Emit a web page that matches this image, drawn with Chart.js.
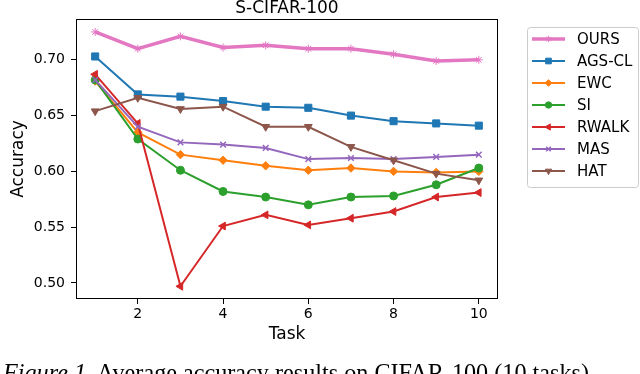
<!DOCTYPE html>
<html><head><meta charset="utf-8">
<script src="https://cdn.jsdelivr.net/npm/chart.js@4/dist/chart.umd.min.js"></script>
<style>
html,body{margin:0;padding:0;background:#fff;overflow:hidden;}
#wrap{position:relative;width:640px;height:374px;overflow:hidden;}
#c{position:absolute;left:0;top:0;}
#cap{position:absolute;left:3px;top:361px;font-family:"Liberation Serif","Times New Roman",serif;font-size:24.2px;color:#000;white-space:nowrap;line-height:1;}
#cap i{font-style:italic;}
</style></head>
<body>
<div id="wrap">
<canvas id="c" width="640" height="374"></canvas>
<div id="cap"><i>Figure 1.</i> Average accuracy results on CIFAR-100 (10 tasks).</div>
</div>
<script>
const chartTitle = "S-CIFAR-100";
const xLabel = "Task";
const yLabel = "Accuracy";
const tasks = [1,2,3,4,5,6,7,8,9,10];
const xTicks = [2,4,6,8,10];
const yTicks = [0.50,0.55,0.60,0.65,0.70];
const seriesNames = ["OURS","AGS-CL","EWC","SI","RWALK","MAS","HAT"];
const ours  = [0.725,0.710,0.721,0.711,0.713,0.710,0.710,0.705,0.699,0.700];
const agscl = [0.703,0.669,0.667,0.663,0.658,0.657,0.650,0.645,0.643,0.641];
const ewc   = [0.681,0.635,0.615,0.610,0.605,0.601,0.603,0.600,0.599,0.600];
const si    = [0.682,0.629,0.601,0.582,0.577,0.570,0.577,0.578,0.588,0.603];
const rwalk = [0.687,0.643,0.497,0.551,0.561,0.552,0.558,0.564,0.577,0.581];
const mas   = [0.682,0.640,0.626,0.624,0.621,0.611,0.612,0.611,0.613,0.615];
const hat   = [0.654,0.666,0.656,0.658,0.640,0.640,0.622,0.610,0.598,0.592];

const seriesValues = [ours,agscl,ewc,si,rwalk,mas,hat];
const styles = [
  {color:'#e377c2', lw:3.5, ps:'star', r:4, rot:0},
  {color:'#1f77b4', lw:2, ps:'rect', r:5, rot:0},
  {color:'#ff7f0e', lw:2, ps:'rectRot', r:4.2, rot:0},
  {color:'#2ca02c', lw:2, ps:'circle', r:4, rot:0},
  {color:'#d62728', lw:2, ps:'triangle', r:4.5, rot:-90},
  {color:'#9467bd', lw:2, ps:'crossRot', r:4, rot:0},
  {color:'#8c564b', lw:2, ps:'triangle', r:4.5, rot:180}
];

const N = seriesNames.length;
const datasets = seriesNames.map((name,i)=>({
  label:name,
  data:tasks.map((t,j)=>({x:t,y:seriesValues[i][j]})),
  borderColor:styles[i].color,
  backgroundColor:styles[i].color,
  borderWidth:styles[i].lw,
  pointStyle:styles[i].ps,
  pointRadius:styles[i].r,
  pointRotation:styles[i].rot,
  pointBorderWidth:styles[i].ps==='crossRot'?1.5:1,
  pointBackgroundColor:styles[i].color,
  pointBorderColor:styles[i].color,
  tension:0,
  order:N-1-i
}));

const framePlugin = {
  id:'frame',
  afterDraw(chart){
    const {ctx, chartArea:a} = chart;
    ctx.save();
    ctx.strokeStyle='#000'; ctx.lineWidth=1;
    ctx.strokeRect(Math.round(a.left)+0.5, Math.round(a.top)+0.5, Math.round(a.right-a.left)-1, Math.round(a.bottom-a.top)-1);
    // title
    ctx.fillStyle='#000';
    ctx.font='17px "DejaVu Sans"';
    ctx.textAlign='center'; ctx.textBaseline='alphabetic';
    ctx.fillText(chartTitle,(a.left+a.right)/2,13);
    // legend
    const lx=527, ly=27, lw=111, lh=160;
    ctx.beginPath();
    if (ctx.roundRect) ctx.roundRect(lx+0.5,ly+0.5,lw,lh,3); else ctx.rect(lx+0.5,ly+0.5,lw,lh);
    ctx.fillStyle='rgba(255,255,255,0.8)'; ctx.fill();
    ctx.strokeStyle='#cccccc'; ctx.lineWidth=1; ctx.stroke();
    chart.data.datasets.forEach((ds,i)=>{
      const y = 39 + i*22;
      ctx.strokeStyle=ds.borderColor; ctx.lineWidth=ds.borderWidth;
      ctx.beginPath(); ctx.moveTo(532,y); ctx.lineTo(565,y); ctx.stroke();
      if (Chart.helpers && Chart.helpers.drawPoint){
        ctx.fillStyle=ds.backgroundColor;
        ctx.strokeStyle=ds.borderColor;
        ctx.lineWidth=ds.pointBorderWidth;
        Chart.helpers.drawPoint(ctx,{pointStyle:ds.pointStyle,radius:ds.pointRadius*0.8,rotation:ds.pointRotation,borderWidth:ds.pointBorderWidth},548.5,y);
      }
      ctx.fillStyle='#000';
      ctx.font='15px "DejaVu Sans"';
      ctx.textAlign='left'; ctx.textBaseline='middle';
      ctx.fillText(ds.label,577,y+1);
    });
    ctx.restore();
  }
};

new Chart(document.getElementById('c'),{
  type:'line',
  data:{datasets},
  options:{
    responsive:false,
    animation:false,
    layout:{padding:{left:0,right:142,top:19,bottom:25}},
    plugins:{legend:{display:false},title:{display:false},tooltip:{enabled:false}},
    scales:{
      x:{
        type:'linear', min:0.55, max:10.45,
        afterFit(s){ s.height=50; },
        afterBuildTicks(s){ s.ticks = xTicks.map(v=>({value:v})); },
        ticks:{color:'#000', font:{family:'DejaVu Sans',size:14}, padding:2, maxRotation:0, autoSkip:false, callback:v=>String(v)},
        grid:{drawOnChartArea:false, drawTicks:true, tickLength:5, tickColor:'#000', tickWidth:1},
        border:{display:false},
        title:{display:true, text:xLabel, color:'#000', font:{family:'DejaVu Sans',size:17,lineHeight:1}, padding:{top:0,bottom:6}}
      },
      y:{
        type:'linear', min:0.4856, max:0.7366,
        afterFit(s){ s.width=76; },
        afterBuildTicks(s){ s.ticks = yTicks.map(v=>({value:v})); },
        ticks:{color:'#000', font:{family:'DejaVu Sans',size:14}, padding:6, autoSkip:false, callback:v=>v.toFixed(2)},
        grid:{drawOnChartArea:false, drawTicks:true, tickLength:5, tickColor:'#000', tickWidth:1},
        border:{display:false},
        title:{display:true, text:yLabel, color:'#000', font:{family:'DejaVu Sans',size:17,lineHeight:1}, padding:{top:10,bottom:0}}
      }
    }
  },
  plugins:[framePlugin]
});
</script>
</body></html>
